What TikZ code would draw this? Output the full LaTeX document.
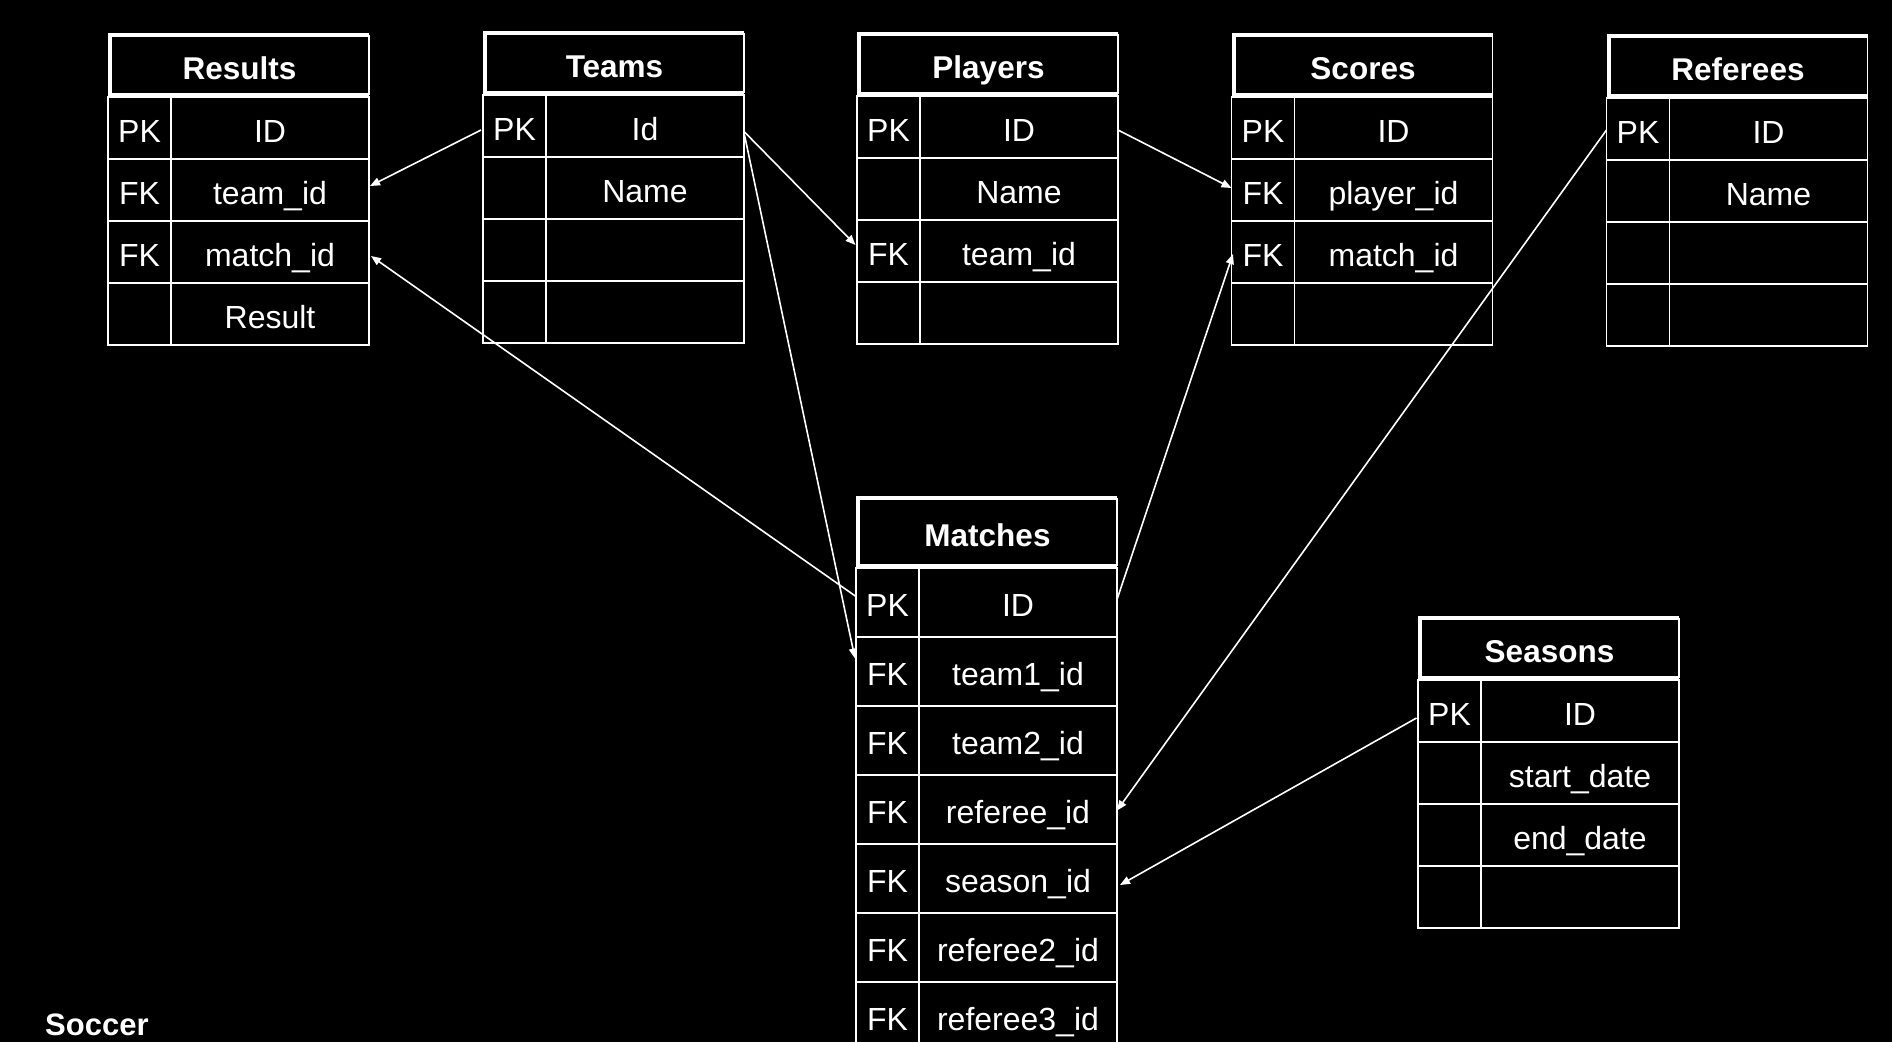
\documentclass[tikz,border=0pt]{standalone}
\usepackage{fontspec}
\setmainfont{Liberation Sans}
\usetikzlibrary{arrows.meta,calc}
\tikzset{
  cellbase/.style={draw=white, line width=1.5pt, inner sep=0pt, outer sep=0pt, text=white, anchor=north west, font=\fontsize{32}{36}\selectfont, text height=28pt, text depth=0pt},
  keycell/.style={cellbase, minimum width=63pt},
  fldcell/.style={cellbase, minimum width=198pt},
  hdr/.style={inner sep=0pt, outer sep=0pt, text=white, anchor=north west, minimum width=259pt, font=\bfseries\fontsize{31.5}{36}\selectfont, text height=28pt, text depth=0pt},
  hdrthick/.style={draw=white, line width=4pt, line join=miter},
  hdrthin/.style={draw=white, line width=1.5pt},
  fk/.style={draw=white, line width=1.6pt, -{Triangle[length=10pt,width=8pt]}},
  captiontext/.style={text=white, font=\bfseries\fontsize{31}{36}\selectfont, anchor=base west, inner sep=0pt}
}
\newcommand\erdtable[7]{%
  \node[hdr, minimum height=#4pt-4pt] (#1) at (#2+2,#3+2) {#6};
  \draw[hdrthick] (#1.north east) -- (#1.north west) -- (#1.south west) -- (#1.south east);
  \draw[hdrthin] (#1.north east) -- (#1.south east);
  \foreach \k/\f [count=\i] in {#7} {%
    \pgfmathsetmacro\yy{#3+#4+(\i-1)*#5}%
    \node[keycell, minimum height=#5pt] (#1-k\i) at (#2,\yy) {\k};
    \node[fldcell, minimum height=#5pt] (#1-f\i) at (#2+63,\yy) {\f};
  }%
}
\begin{document}
\begin{tikzpicture}[x=1pt,y=-1pt]
\useasboundingbox (0,0) rectangle (1892,1042);
\clip (0,0) rectangle (1892,1042);
\fill[black] (0,0) rectangle (1892,1042);

\erdtable{results}{108}{33}{64}{62}{Results}{PK/ID, FK/team\_id, FK/match\_id, {}/Result}
\erdtable{teams}{483}{31}{64}{62}{Teams}{PK/Id, {}/Name, {}/{}, {}/{}}
\erdtable{players}{857}{32}{64}{62}{Players}{PK/ID, {}/Name, FK/team\_id, {}/{}}
\erdtable{scores}{1231.5}{33}{64}{62}{Scores}{PK/ID, FK/player\_id, FK/match\_id, {}/{}}
\erdtable{referees}{1606.5}{34}{64}{62}{Referees}{PK/ID, {}/Name, {}/{}, {}/{}}
\erdtable{matches}{856}{496}{72}{69}{Matches}{PK/ID, FK/team1\_id, FK/team2\_id, FK/referee\_id, FK/season\_id, FK/referee2\_id, FK/referee3\_id}
\erdtable{seasons}{1418}{616}{64}{62}{Seasons}{PK/ID, {}/start\_date, {}/end\_date, {}/{}}

\node[captiontext] (soccer) at (45,1035) {Soccer};

\draw[fk] ($(teams-k1.west)+(-2,4)$) -- ($(results-f2.east)+(1,-4)$);
\draw[fk] ($(teams-f1.east)+(0.5,6)$) -- ($(players-k3.west)+(-1.5,-6)$);
\draw[fk] ($(teams-f1.east)+(0.5,9)$) -- ($(matches-k2.west)+(-1,-13)$);
\draw[fk] ($(matches-k1.west)+(0,-6)$) -- ($(results-f3.east)+(2,4)$);
\draw[fk] ($(players-f1.east)+(0,3)$) -- ($(scores-k2.west)+(0,-2)$);
\draw[fk] ($(matches-f1.east)+(0,-3)$) -- ($(scores-k3.west)+(1.5,2)$);
\draw[fk] ($(referees-k1.west)+(0,1)$) -- ($(matches-f4.east)+(0,1)$);
\draw[fk] ($(seasons-k1.west)+(-1.5,7)$) -- ($(matches-f5.east)+(3,6.5)$);
\end{tikzpicture}
\end{document}
